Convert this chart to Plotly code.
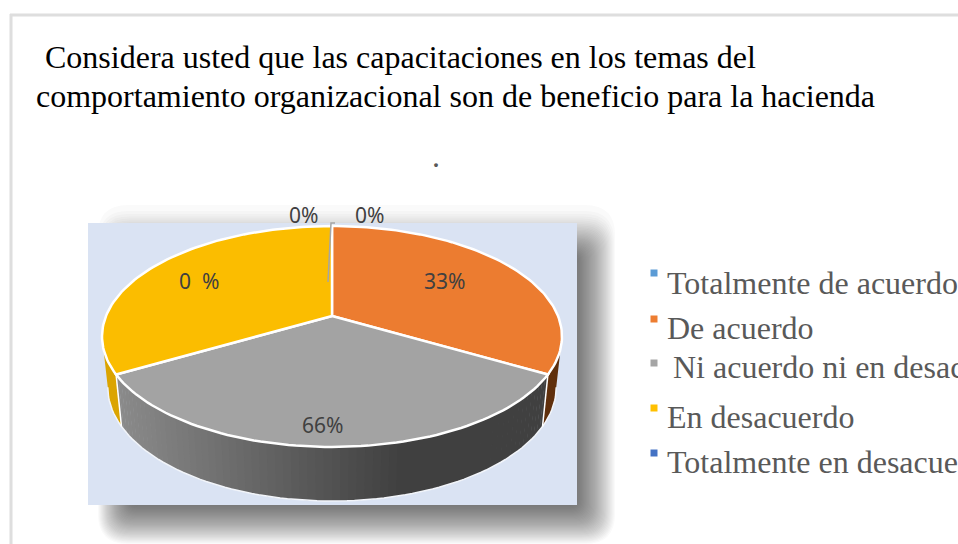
import math
import plotly.graph_objects as go

# Data
categories = ["Totalmente de acuerdo", "De acuerdo", "Ni acuerdo ni en desacuerdo", "En desacuerdo", "Totalmente en desacuerdo"]
slice_values = [0, 33.3, 33.4, 33.3, 0]
slice_labels = ["0%", "33%", "66%", "0  %", "0%"]
colors = ["#5B9BD5", "#ED7D31", "#A5A5A5", "#FFC000", "#4472C4"]
top_colors = ["#5B9BD5", "#EC7C30", "#A3A3A3", "#FBBD00", "#4472C4"]
wall_colors = {1: "#5F2F0C", 3: "#DBA400"}
title_lines = ["Considera usted que las capacitaciones en los temas del",
               "comportamiento organizacional son de beneficio para la hacienda"]

W, H = 958, 544
CX, CY, KX, KY, C = 332, 316, 226, 106.7, 0.1855
DEPTH = 50
SERIF = "Liberation Serif"
SANS = "Noto Sans"


def top_point(theta):
    X, Y = math.sin(theta), -math.cos(theta)
    d = 1 - C * Y
    return CX + KX * X / d, CY + KY * Y / d


def low_point(theta):
    x, y = top_point(theta)
    return CX + (x - CX) * 0.975, y + DEPTH + 4 * (-math.cos(theta))


def frange(a, b, n):
    return [a + (b - a) * i / n for i in range(n + 1)]


total = sum(slice_values)
starts = []
run = 0
for v in slice_values:
    starts.append(run / total * 2 * math.pi)
    run += v

fig = go.Figure()


def poly(xs, ys, fill, line=None, width=0):
    fig.add_trace(go.Scatter(x=xs, y=ys, mode="lines", fill="toself", fillcolor=fill,
                             line=dict(color=line or fill, width=width), hoverinfo="skip", showlegend=False))


# Visible front range of the rim runs between the two x extremes
vis_a = math.acos(-C)
vis_b = 2 * math.pi - vis_a

# walls
for i, v in enumerate(slice_values):
    if v == 0:
        continue
    a, b = starts[i], starts[i] + v / total * 2 * math.pi
    a2, b2 = max(a, vis_a), min(b, vis_b)
    if a2 >= b2:
        continue
    if i == 2:
        # Shaded gray wall, broken in thin strips
        n = 70
        for k in range(n):
            t0 = a2 + (b2 - a2) * k / n
            t1 = a2 + (b2 - a2) * (k + 1.15) / n
            ts = frange(t0, min(t1, b2), 3)
            pts = [top_point(t) for t in ts] + [low_point(t) for t in reversed(ts)]
            u = (CX + 216 - top_point(t0)[0]) / 432  # 0 right, 1 left
            if u < 0.33:
                g = 64
            else:
                g = 64 + (u - 0.33) / 0.67 * 76
            c = f"rgb({int(g)},{int(g)},{int(g)})"
            poly([p[0] for p in pts], [p[1] for p in pts], c)
    else:
        ts = frange(a2, b2, 40)
        pts = [top_point(t) for t in ts] + [low_point(t) for t in reversed(ts)]
        poly([p[0] for p in pts], [p[1] for p in pts], wall_colors[i])

# white outline under the walls
ts = frange(vis_a, vis_b, 100)
pts = [low_point(t) for t in ts]
fig.add_trace(go.Scatter(x=[p[0] for p in pts], y=[p[1] for p in pts], mode="lines",
                         line=dict(color="#F2F5FA", width=1.5), hoverinfo="skip", showlegend=False))
for t in (starts[2], starts[3]):
    p, q = top_point(t), low_point(t)
    fig.add_trace(go.Scatter(x=[p[0], q[0]], y=[p[1], q[1]], mode="lines",
                             line=dict(color="#FFFFFF", width=1.5), hoverinfo="skip", showlegend=False))

# top faces
for i, v in enumerate(slice_values):
    if v == 0:
        continue
    a, b = starts[i], starts[i] + v / total * 2 * math.pi
    pts = [(CX, CY)] + [top_point(t) for t in frange(a, b, 80)] + [(CX, CY)]
    poly([p[0] for p in pts], [p[1] for p in pts], top_colors[i], "#FFFFFF", 2.5)

# leader line of the zero slices
fig.add_trace(go.Scatter(x=[328, 331, 331, 335], y=[282, 226, 223, 223], mode="lines",
                         line=dict(color="#A5A5A5", width=1.5), hoverinfo="skip", showlegend=False))

# data labels
label_xy = [(303, 215), (444, 281), (322, 425), (199, 281), (369, 215)]
for (x, y), txt in zip(label_xy, slice_labels):
    fig.add_annotation(x=x, y=y, text=txt, showarrow=False, xanchor="center", yanchor="middle",
                       font=dict(family=SANS, size=21, color="#404040"))

# legend
legend_marker_y = [273, 319, 363, 408, 453]
legend_text_y = [283, 328, 367, 417, 462]
legend_text_x = [665, 665, 671, 665, 665]
fig.add_trace(go.Scatter(x=[654] * 5, y=legend_marker_y, mode="markers",
                         marker=dict(symbol="square", size=7, color=colors), hoverinfo="skip", showlegend=False))
for x, y, txt in zip(legend_text_x, legend_text_y, categories):
    fig.add_annotation(x=x, y=y, text=txt, showarrow=False, xanchor="left", yanchor="middle",
                       font=dict(family=SERIF, size=32, color="#595959"))

# title
for x, y, txt in zip((43, 34), (57, 96), title_lines):
    fig.add_annotation(x=x, y=y, text=txt, showarrow=False, xanchor="left", yanchor="middle",
                       font=dict(family=SERIF, size=32, color="#000000"))
fig.add_annotation(x=436, y=156, text=".", showarrow=False, xanchor="center", yanchor="middle",
                   font=dict(family=SERIF, size=32, color="#595959"))


def round_rect(x0, y0, x1, y1, r):
    return (f"M{x0 + r},{y0} L{x1 - r},{y0} Q{x1},{y0} {x1},{y0 + r} L{x1},{y1 - r} Q{x1},{y1} {x1 - r},{y1} "
            f"L{x0 + r},{y1} Q{x0},{y1} {x0},{y1 - r} L{x0},{y0 + r} Q{x0},{y0} {x0 + r},{y0} Z")


# Shapes: frame, blurred shadow, plot panel
shapes = [
    dict(type="line", x0=11, x1=11, y0=14, y1=H, line=dict(color="#DEDEDE", width=3)),
    dict(type="line", x0=10, x1=W, y0=15, y1=15, line=dict(color="#DEDEDE", width=3)),
]
layers = 36
for k in range(layers):
    t = k / (layers - 1)
    e = 38 * (1 - t)
    top = 205 + 50 * t ** 0.6
    shapes.append(dict(type="path", path=round_rect(98 + 32 * t, top, 577 + e, 506 + e, 8 + 22 * (1 - t)),
                       layer="below", fillcolor="rgba(60,60,60,0.023)", line=dict(width=0)))
shapes.append(dict(type="rect", x0=88, x1=577, y0=223, y1=505, layer="below",
                   fillcolor="#DAE3F3", line=dict(width=0)))

fig.update_layout(
    width=W, height=H, margin=dict(l=0, r=0, t=0, b=0), autosize=False,
    paper_bgcolor="#FFFFFF", plot_bgcolor="#FFFFFF", showlegend=False, shapes=shapes,
    xaxis=dict(range=[0, W], visible=False, fixedrange=True),
    yaxis=dict(range=[H, 0], visible=False, fixedrange=True),
)
fig.write_html("out.html", config={"displayModeBar": False},
               post_script="document.body.style.margin='0';document.documentElement.style.overflow='hidden';")
